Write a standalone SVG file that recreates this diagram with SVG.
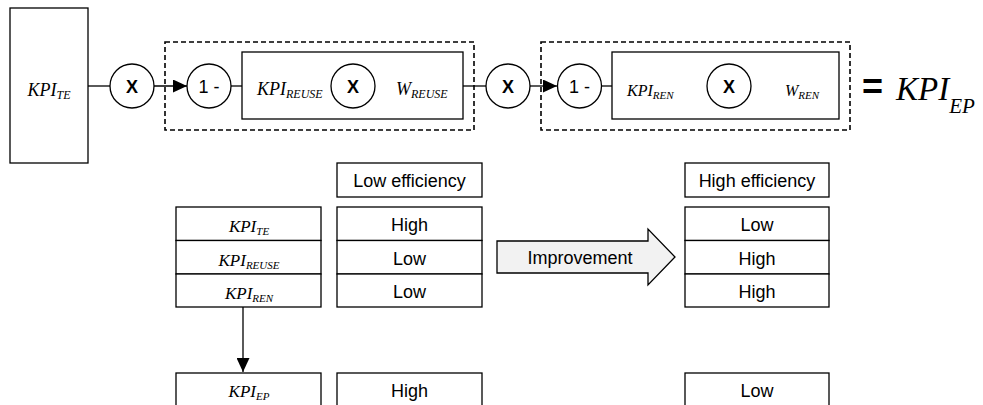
<svg xmlns="http://www.w3.org/2000/svg" width="983" height="405" viewBox="0 0 983 405">
<style>
.b{fill:#fff;stroke:#000;stroke-width:1.3}
.d{fill:none;stroke:#000;stroke-width:1.6;stroke-dasharray:5 3}
.l{fill:none;stroke:#000;stroke-width:1.3}
text.m{font-family:'Liberation Serif','Times New Roman','DejaVu Serif',serif;font-style:italic;fill:#000}
.s{font-family:'Liberation Sans',Arial,sans-serif;font-size:18px;fill:#000}
.x{font-family:'Liberation Sans',Arial,sans-serif;font-size:18px;font-weight:bold;fill:#000}
</style>
<defs>
<marker id="ah" viewBox="0 0 14 13" refX="14" refY="6.5" markerWidth="14" markerHeight="13" markerUnits="userSpaceOnUse" orient="auto">
<path d="M0,0 L14,6.5 L0,13 Z" fill="#000"/>
</marker>
</defs>
<g id="connectors">
<line class="l" x1="88" y1="86" x2="110" y2="86"/>
<line class="l" x1="154" y1="86" x2="187" y2="86" marker-end="url(#ah)"/>
<line class="l" x1="231" y1="86" x2="242" y2="86"/>
<line class="l" x1="353" y1="52" x2="353" y2="64"/>
<line class="l" x1="353" y1="108" x2="353" y2="119"/>
<line class="l" x1="463" y1="86" x2="486" y2="86"/>
<line class="l" x1="530" y1="86" x2="557" y2="86" marker-end="url(#ah)"/>
<line class="l" x1="602" y1="86" x2="612" y2="86"/>
<line class="l" x1="729" y1="52" x2="729" y2="64"/>
<line class="l" x1="729" y1="108" x2="729" y2="119"/>
<line class="l" x1="243" y1="307" x2="243" y2="372" marker-end="url(#ah)"/>
</g>
<g id="kpi-te-box">
<rect class="b" x="10" y="8" width="78" height="155"/>
<text class="m" font-family="'Liberation Serif',serif" x="49" y="96" font-size="18" text-anchor="middle">KPI<tspan font-size="12" dy="3">TE</tspan></text>
</g>
<g id="mult1">
<circle class="b" cx="132" cy="86" r="22"/>
<text class="x" x="132" y="92.5" text-anchor="middle">X</text>
</g>
<g id="group-reuse">
<rect class="d" x="165" y="42" width="309" height="88"/>
<rect class="b" x="242" y="52" width="221" height="67"/>
<circle class="b" cx="209" cy="86" r="22"/>
<text class="s" x="209" y="92.5" text-anchor="middle">1 -</text>
<text class="m" font-family="'Liberation Serif',serif" x="257" y="95" font-size="18">KPI<tspan font-size="12" dy="3">REUSE</tspan></text>
<circle class="b" cx="353" cy="86" r="22"/>
<text class="x" x="353" y="92.5" text-anchor="middle">X</text>
<text class="m" font-family="'Liberation Serif',serif" x="396" y="95" font-size="18">W<tspan font-size="12" dy="3">REUSE</tspan></text>
</g>
<g id="mult2">
<circle class="b" cx="508" cy="86" r="22"/>
<text class="x" x="508" y="92.5" text-anchor="middle">X</text>
</g>
<g id="group-ren">
<rect class="d" x="541" y="42" width="309" height="88"/>
<rect class="b" x="612" y="52" width="227" height="67"/>
<circle class="b" cx="579.5" cy="86" r="22"/>
<text class="s" x="579.5" y="92.5" text-anchor="middle">1 -</text>
<text class="m" font-family="'Liberation Serif',serif" x="627" y="96" font-size="16">KPI<tspan font-size="11" dy="3">REN</tspan></text>
<circle class="b" cx="729" cy="86" r="22"/>
<text class="x" x="729" y="92.5" text-anchor="middle">X</text>
<text class="m" font-family="'Liberation Serif',serif" x="785" y="96" font-size="16">W<tspan font-size="11" dy="3">REN</tspan></text>
</g>
<g id="result">
<text x="862" y="99" font-family="'Liberation Sans',Arial,sans-serif" font-weight="bold" font-size="36" fill="#000">=</text>
<text class="m" font-family="'Liberation Serif',serif" x="896" y="100" font-size="33">KPI<tspan font-size="21" dy="13">EP</tspan></text>
</g>
<g id="low-eff-header">
<rect class="b" x="337" y="163" width="145" height="34"/>
<text class="s" x="409.5" y="187" text-anchor="middle">Low efficiency</text>
</g>
<g id="high-eff-header">
<rect class="b" x="685" y="163" width="144" height="34"/>
<text class="s" x="757" y="187" text-anchor="middle">High efficiency</text>
</g>
<g id="kpi-table">
<rect class="b" x="176" y="207" width="145" height="33.5"/>
<rect class="b" x="176" y="240.5" width="145" height="33.5"/>
<rect class="b" x="176" y="274" width="145" height="33"/>
<text class="m" font-family="'Liberation Serif',serif" x="249" y="232" font-size="17" text-anchor="middle">KPI<tspan font-size="11" dy="3">TE</tspan></text>
<text class="m" font-family="'Liberation Serif',serif" x="249" y="265.5" font-size="17" text-anchor="middle">KPI<tspan font-size="11" dy="3">REUSE</tspan></text>
<text class="m" font-family="'Liberation Serif',serif" x="249" y="299" font-size="17" text-anchor="middle">KPI<tspan font-size="11" dy="3">REN</tspan></text>
</g>
<g id="low-table">
<rect class="b" x="337" y="207" width="145" height="33.5"/>
<rect class="b" x="337" y="240.5" width="145" height="33.5"/>
<rect class="b" x="337" y="274" width="145" height="33"/>
<text class="s" x="409.5" y="231" text-anchor="middle">High</text>
<text class="s" x="409.5" y="264.5" text-anchor="middle">Low</text>
<text class="s" x="409.5" y="298" text-anchor="middle">Low</text>
</g>
<g id="improvement">
<polygon points="497,241 648,241 648,229 675,257 648,285 648,273 497,273" fill="#f2f2f2" stroke="#000" stroke-width="1.3"/>
<text class="s" x="580" y="263.5" text-anchor="middle">Improvement</text>
</g>
<g id="high-table">
<rect class="b" x="685" y="207" width="144" height="33.5"/>
<rect class="b" x="685" y="240.5" width="144" height="33.5"/>
<rect class="b" x="685" y="274" width="144" height="33"/>
<text class="s" x="757" y="231" text-anchor="middle">Low</text>
<text class="s" x="757" y="264.5" text-anchor="middle">High</text>
<text class="s" x="757" y="298" text-anchor="middle">High</text>
</g>
<g id="kpi-ep-row">
<rect class="b" x="176" y="373" width="145" height="40"/>
<text class="m" font-family="'Liberation Serif',serif" x="249" y="397" font-size="17" text-anchor="middle">KPI<tspan font-size="11" dy="3">EP</tspan></text>
</g>
<g id="low-ep">
<rect class="b" x="337" y="373" width="145" height="40"/>
<text class="s" x="409.5" y="397" text-anchor="middle">High</text>
</g>
<g id="high-ep">
<rect class="b" x="685" y="373" width="144" height="40"/>
<text class="s" x="757" y="397" text-anchor="middle">Low</text>
</g>
</svg>
